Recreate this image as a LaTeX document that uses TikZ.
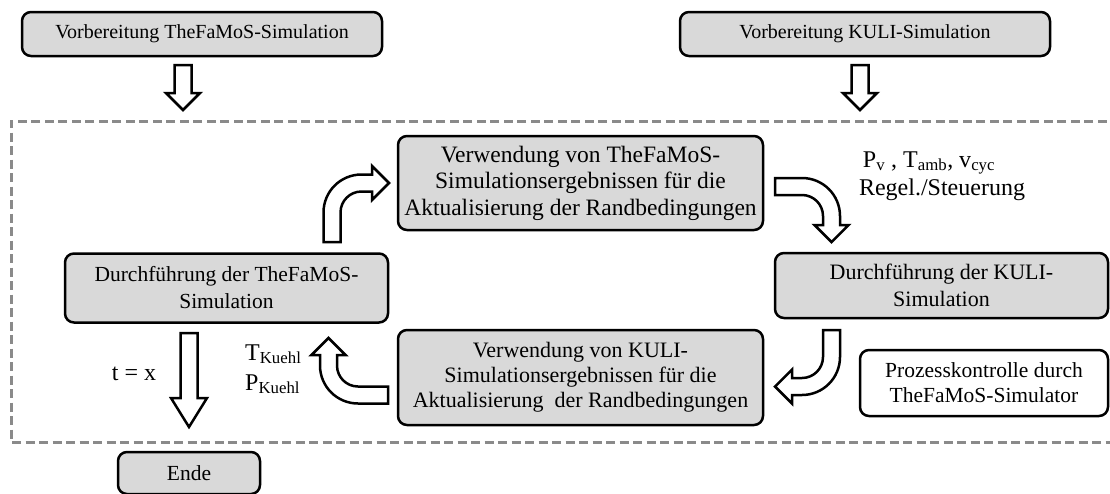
\documentclass[tikz,border=0pt]{standalone}
\usepackage{fontspec}
\setmainfont{Liberation Serif}
\definecolor{boxgray}{HTML}{D9D9D9}
\definecolor{framegray}{HTML}{8A8A8A}
\tikzset{
  gbox/.style={draw=black, line width=2.5pt, rounded corners=9pt, fill=boxgray,
    align=center, inner sep=0pt, font=\fontsize{20}{23.5}\selectfont},
  wbox/.style={gbox, fill=white},
  barrow/.style={draw=black, line width=2.5pt, fill=white, line join=miter},
  lbl/.style={font=\fontsize{24}{28}\selectfont, inner sep=0pt},
  frame/.style={draw=framegray, line width=3pt, dash pattern=on 9pt off 4.5pt}
}
\begin{document}
\begin{tikzpicture}[x=1pt,y=-1pt]
\useasboundingbox (0,0) rectangle (1110,493);
\clip (0,0) rectangle (1110,493);

% dashed frame (open to the right)
\draw[frame] (1120,121) -- (11,121) -- (11,442) -- (1120,442);

% boxes
\node[gbox, minimum width=360pt, minimum height=44pt] (prepT) at (202,34) {Vorbereitung TheFaMoS-Simulation};
\node[gbox, minimum width=370pt, minimum height=44pt] (prepK) at (865,34) {Vorbereitung KULI-Simulation};
\node[gbox, minimum width=365pt, minimum height=94pt, font=\fontsize{23.5}{26.5}\selectfont] (useT) at (580.5,183) {Verwendung von TheFaMoS-\\Simulationsergebnissen für die\\Aktualisierung der Randbedingungen};
\node[gbox, minimum width=333pt, minimum height=65pt, font=\fontsize{22}{27}\selectfont] (runK) at (941.5,285.5) {Durchführung der KULI-\\Simulation};
\node[gbox, minimum width=323pt, minimum height=69pt, font=\fontsize{21.5}{27}\selectfont] (runT) at (226.5,288) {Durchführung der TheFaMoS-\\Simulation};
\node[gbox, minimum width=365pt, minimum height=95pt, font=\fontsize{22}{25}\selectfont] (useK) at (580.5,377.5) {Verwendung von KULI-\\Simulationsergebnissen für die\\Aktualisierung \ der Randbedingungen};
\node[wbox, minimum width=248pt, minimum height=66pt, font=\fontsize{21.5}{25}\selectfont] (ctrl) at (984,383) {Prozesskontrolle durch\\TheFaMoS-Simulator};
\node[gbox, minimum width=142pt, minimum height=42pt, font=\fontsize{21.5}{25}\selectfont] (ende) at (189,473) {Ende};

% labels
\node[lbl, anchor=base] (pv) at (929,167) {P\textsubscript{v} , T\textsubscript{amb}, v\textsubscript{cyc}};
\node[lbl, anchor=base] (regel) at (942,195) {Regel./Steuerung};
\node[lbl, anchor=base] (tx) at (134,380) {t = x};
\node[lbl, anchor=base west] (tk) at (245,360) {T\textsubscript{Kuehl}};
\node[lbl, anchor=base west] (pk) at (245,390) {P\textsubscript{Kuehl}};

% straight block arrows
\draw[barrow] (174.5,65) -- (191.5,65) -- (191.5,93) -- (200,93) -- (183,110) -- (166,93) -- (174.5,93) -- cycle;
\draw[barrow] (851.5,65) -- (868.5,65) -- (868.5,93) -- (877,93) -- (860,110) -- (843,93) -- (851.5,93) -- cycle;
\draw[barrow] (180.5,333) -- (197.5,333) -- (197.5,398) -- (207,398) -- (189,427) -- (171,398) -- (180.5,398) -- cycle;

% bent block arrows
% up then right (runT -> useT)
\draw[barrow] (323.5,242) -- (323.5,212.5) .. controls (323.5,191.5) and (340.5,174.5) .. (361.5,174.5)
  -- (372,174.5) -- (372,166) -- (389,183) -- (372,200) -- (372,191.5) -- (361.5,191.5)
  .. controls (349.9,191.5) and (340.5,200.9) .. (340.5,212.5) -- (340.5,242) -- cycle;
% right then down (useT -> runK)
\draw[barrow] (775,178) -- (802,178) .. controls (823,178) and (840,195) .. (840,216)
  -- (840,225) -- (848.5,225) -- (831.5,242) -- (814.5,225) -- (823,225) -- (823,216)
  .. controls (823,204.4) and (813.6,195) .. (802,195) -- (775,195) -- cycle;
% down then left (runK -> useK)
\draw[barrow] (823,330) -- (840,330) -- (840,357) .. controls (840,378) and (823,395) .. (802,395)
  -- (792,395) -- (792,403.5) -- (775,386.5) -- (792,369.5) -- (792,378) -- (802,378)
  .. controls (813.6,378) and (823,368.6) .. (823,357) -- cycle;
% left then up (useK -> runT)
\draw[barrow] (388,386.5) -- (388,403.5) -- (358,403.5) .. controls (337,403.5) and (320,386.5) .. (320,365.5)
  -- (320,355) -- (311.5,355) -- (328.5,338) -- (345.5,355) -- (337,355) -- (337,365.5)
  .. controls (337,377.1) and (346.4,386.5) .. (358,386.5) -- cycle;
\end{tikzpicture}
\end{document}
